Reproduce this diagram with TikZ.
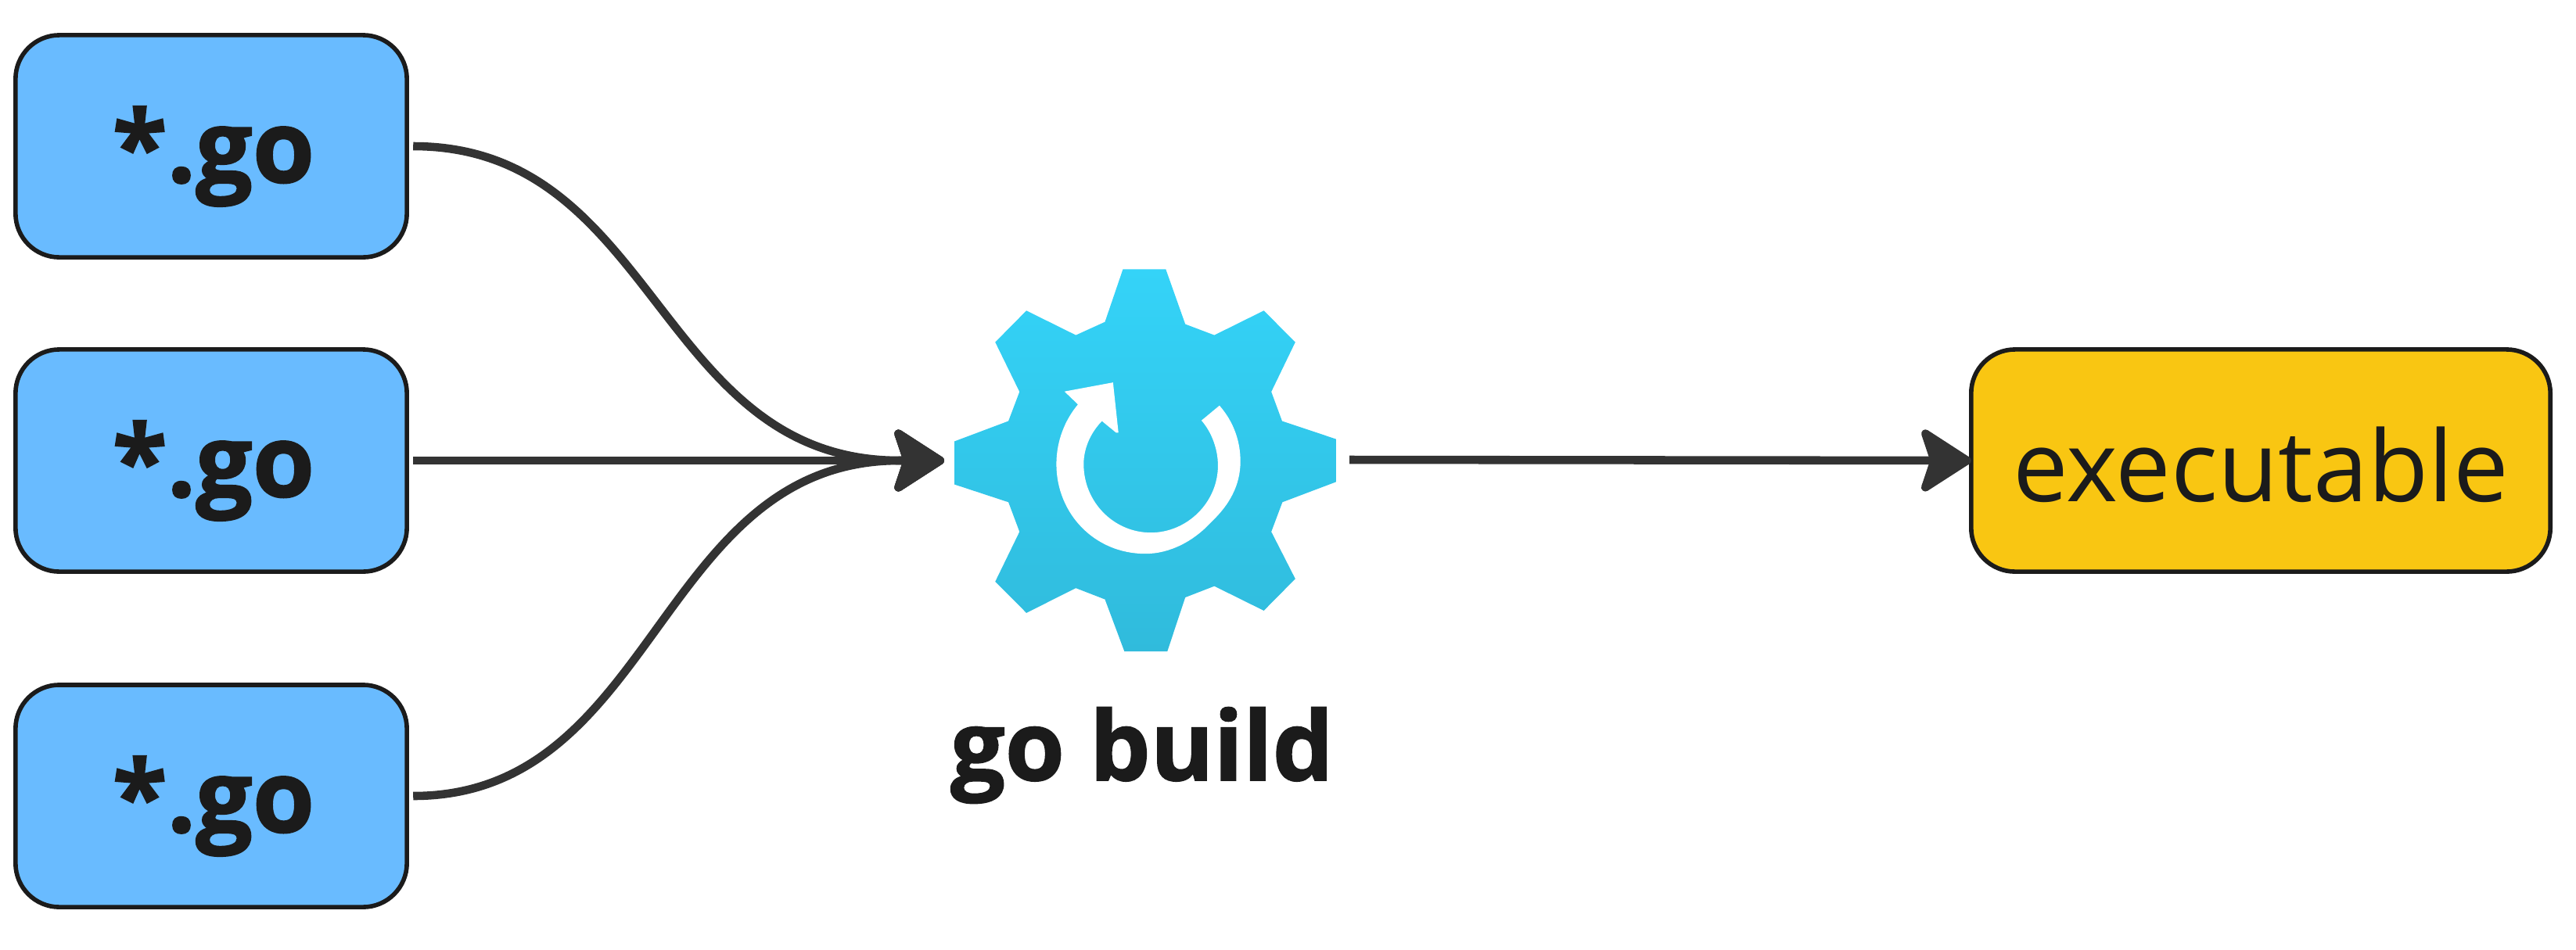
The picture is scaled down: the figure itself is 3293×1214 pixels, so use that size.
\documentclass[tikz,border=0pt]{standalone}
\usepackage{fontspec}
\setmainfont{Open Sans}[BoldFeatures={FakeBold=1.4}]
\usetikzlibrary{arrows.meta}
\definecolor{boxblue}{HTML}{69BBFF}
\definecolor{boxyellow}{HTML}{F9C612}
\definecolor{inkdark}{HTML}{1B1B1B}
\definecolor{linedark}{HTML}{333333}
\definecolor{geartop}{HTML}{34D3F8}
\definecolor{gearbot}{HTML}{30BBDC}
\tikzset{
  card/.style={draw=inkdark,line width=1.6pt,rounded corners=0.56cm,minimum width=5.0cm,minimum height=2.84cm,inner sep=0pt,outer sep=0pt},
  srcbox/.style={card,fill=boxblue},
  outbox/.style={card,fill=boxyellow,minimum width=7.4cm},
  srctext/.style={text=inkdark,inner sep=0pt,font=\fontsize{36.5}{40}\selectfont\bfseries},
  outtext/.style={text=inkdark,inner sep=0pt,font=\fontsize{35.8}{40}\selectfont},
  gearlabel/.style={text=inkdark,inner sep=0pt,font=\fontsize{35}{38}\selectfont\bfseries},
  conn/.style={draw=linedark,line width=3pt,-{Stealth[length=0.72cm,width=0.92cm,inset=0.15cm,round]}},
}
\begin{document}
\begin{tikzpicture}[x=0.01cm,y=-0.01cm]
\useasboundingbox (0,0) rectangle (3293,1214);
\node[srcbox] (a) at (270,187) {};
\node[srcbox] (b) at (270,589) {};
\node[srcbox] (c) at (270,1018) {};
\node[srctext] (ta) at (273,200) {*.go};
\node[srctext] (tb) at (273,602) {*.go};
\node[srctext] (tc) at (273,1031) {*.go};
\node[outbox] (e) at (2890,589) {};
\node[outtext] (te) at (2890,594) {executable};
\node[gearlabel] (lbl) at (1460,966) {go build};
\coordinate (tipin) at (1207,589);
\coordinate (join) at (1150,589);
\coordinate (gearout) at (1725,588);
\draw[conn,shorten <=2.3pt] (a.east) .. controls +(320,0) and +(-310,0) .. (join) -- (tipin);
\draw[conn,shorten <=2.3pt] (b.east) -- (tipin);
\draw[conn,shorten <=2.3pt] (c.east) .. controls +(320,0) and +(-310,0) .. (join) -- (tipin);
\draw[conn] (gearout) -- (e.west);
\begin{scope}[shift={(1150,300)},x=0.003827cm,y=-0.003597cm]
\path[top color=geartop,bottom color=gearbot]
 (745,123) -- (888,123) -- (953,318) -- (1050,357) -- (1215,270) -- (1320,382) -- (1240,558) -- (1276,662) -- (1456,726) -- (1456,878) -- (1277,950) -- (1240,1055) -- (1320,1222) -- (1215,1335) -- (1050,1248) -- (953,1288) -- (893,1480) -- (750,1480) -- (685,1295) -- (588,1255) -- (423,1343) -- (319,1232) -- (400,1055) -- (363,950) -- (183,887) -- (183,734) -- (363,662) -- (400,558) -- (319,382) -- (423,270) -- (588,357) -- (685,310) -- cycle;
\fill[white] (1067,607) .. controls (1115,665) and (1137,735) .. (1137,805) .. controls (1137,890) and (1100,960) .. (1040,1020) .. controls (980,1090) and (900,1133) .. (820,1133) .. controls (650,1133) and (523,990) .. (523,815) .. controls (523,735) and (550,660) .. (595,603) -- (550,557) -- (712,525) -- (730,703) -- (722,703) -- (675,662) .. controls (640,700) and (614,755) .. (614,815) .. controls (614,950) and (715,1058) .. (838,1058) .. controls (960,1058) and (1062,950) .. (1062,820) .. controls (1062,760) and (1040,700) .. (1007,660) -- cycle;
\end{scope}
\end{tikzpicture}
\end{document}
